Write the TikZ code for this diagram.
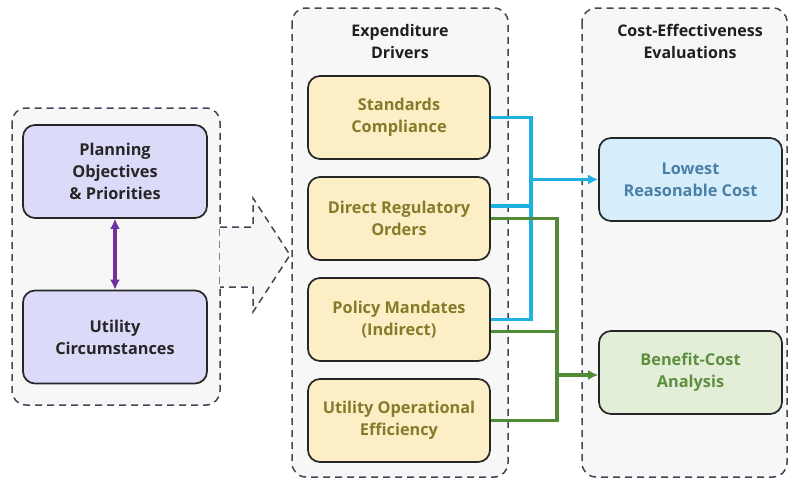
\documentclass[tikz,border=0pt]{standalone}
\usepackage{fontspec}
\setmainfont{Open Sans}
\usetikzlibrary{arrows.meta, positioning}
\definecolor{groupgray}{HTML}{F7F7F7}
\definecolor{groupline}{HTML}{3F4756}
\definecolor{boxline}{HTML}{262626}
\definecolor{lavender}{HTML}{DCDAF9}
\definecolor{sand}{HTML}{FCEFC6}
\definecolor{sandtext}{HTML}{877A2B}
\definecolor{skyfill}{HTML}{D6EEFB}
\definecolor{skytext}{HTML}{4B7FA6}
\definecolor{leaffill}{HTML}{E2EED8}
\definecolor{leaftext}{HTML}{5E8F3D}
\definecolor{bluewire}{HTML}{1FB0E2}
\definecolor{greenwire}{HTML}{528A35}
\definecolor{plum}{HTML}{7030A0}

\begin{document}
\begin{tikzpicture}[x=1pt,y=-1pt,node distance=101pt,on grid,>={Latex[length=10pt,width=10pt]}]

\tikzset{group/.style={draw=groupline,fill=groupgray,line width=1.5pt,dash pattern=on 7pt off 5pt,rounded corners=14pt},
title/.style={align=center,text=black!88,font=\bfseries\fontsize{16}{22}\selectfont},
box/.style={draw=boxline,line width=1.7pt,rounded corners=12pt,minimum width=182pt,minimum height=83pt,align=center,font=\bfseries\fontsize{16.3}{22}\selectfont},
driver/.style={box,fill=sand,text=sandtext},
wire/.style={line width=3.5pt}}

    \useasboundingbox (0,0) rectangle (790,479);

    % groups
    \draw[group] (12,108) rectangle (220,405);
    \draw[group] (292,8) rectangle (508,477);
    \draw[group] (582,8) rectangle (787,477);
    \path[group,rounded corners=0pt] (220,227) -- (253,227) -- (253,198) -- (290,255) -- (253,312) -- (253,287) -- (220,287);

    \node[title] (ED) at (400,41) {Expenditure\\Drivers};
    \node[title] (CE) at (690,41) {Cost-Effectiveness\\Evaluations};

    % left side
    \node[box,fill=lavender,text=black!85,minimum width=184pt,minimum height=93pt] (PO) at (115,171.5) {Planning\\Objectives\\\& Priorities};
    \node[box,fill=lavender,text=black!85,minimum width=184pt,minimum height=93pt] (UC) [below=165.5pt of PO] {Utility\\Circumstances};
    \draw[wire,plum,<->] (PO) -- (UC);

    % drivers
    \node[driver] (SC) at (399,117.5) {Standards\\Compliance};
    \node[driver] (DRO) [below =of SC] {Direct Regulatory\\Orders};
    \node[driver] (PM) [below =of DRO] {Policy Mandates\\(Indirect)};
    \node[driver] (UOE) [below =of PM] {Utility Operational\\Efficiency};

    % evaluations
    \node[box,fill=skyfill,text=skytext,minimum width=183pt] (LRC) at (690.5,179.5) {Lowest\\Reasonable Cost};
    \node[box,fill=leaffill,text=leaftext,minimum width=183pt] (BCA) at (690.5,372.5) {Benefit-Cost\\Analysis};

    \coordinate (bt) at (531,0);
    \coordinate (gt) at (557,0);

    \draw[wire,bluewire] (SC.east) -- (SC.east -| bt) -- (PM.east -| bt) -- (PM.east);
    \draw[wire,bluewire] ([yshift=12.5pt]DRO.east) -- ([yshift=12.5pt]DRO.east -| bt);
    \draw[wire,bluewire,->] (LRC.west -| bt) -- (LRC.west);

    \draw[wire,greenwire] (DRO.east) -- (DRO.east -| gt) -- (UOE.east -| gt) -- (UOE.east);
    \draw[wire,greenwire] ([yshift=-12pt]PM.east) -- ([yshift=-12pt]PM.east -| gt);
    \draw[wire,greenwire,->] ([yshift=-2.5pt]BCA.west -| gt) -- ([yshift=-2.5pt]BCA.west);

\end{tikzpicture}
\end{document}
